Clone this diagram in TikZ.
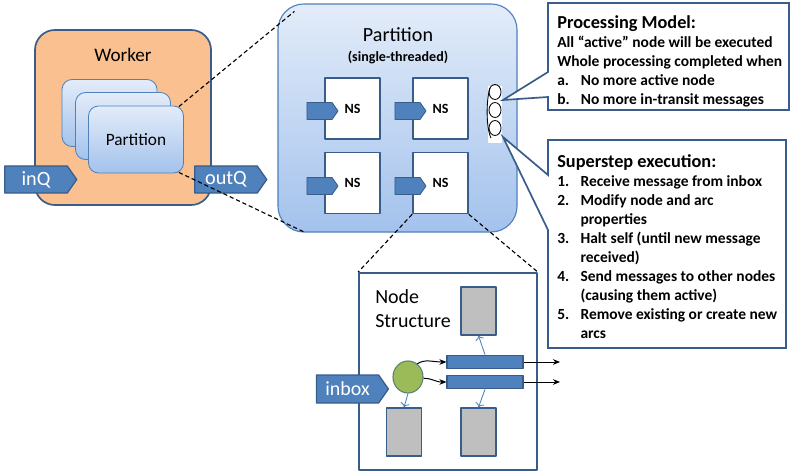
\documentclass[tikz,border=0pt]{standalone}
\usepackage{fontspec}
\setmainfont{Carlito}
\usetikzlibrary{shapes.symbols,shapes.geometric,calc,arrows.meta}
\definecolor{wkorange}{HTML}{FAC090}
\definecolor{dkblue}{HTML}{385D8A}
\definecolor{midblue}{HTML}{4F81BD}
\definecolor{ptop}{HTML}{E3ECF9}
\definecolor{pbot}{HTML}{A3C2EC}
\definecolor{nsgreen}{HTML}{9BBB59}
\definecolor{nsgray}{HTML}{BFBFBF}
\newcommand{\fsz}[2]{\fontsize{#1}{#2}\selectfont}
\tikzset{
	worker/.style={draw=dkblue, line width=1.2pt, fill=wkorange, rounded corners=0.5cm},
	ptcard/.style={draw=midblue, line width=0.6pt, rounded corners=0.25cm, top color=ptop, bottom color=pbot, minimum width=2.375cm, minimum height=1.675cm},
	qarrow/.style={signal, signal to=east, signal pointer angle=110, fill=midblue, draw=dkblue, line width=0.9pt, text=white, inner sep=0pt},
	nsbox/.style={draw=dkblue, line width=1.2pt, fill=white, minimum width=1.375cm, minimum height=1.525cm, font=\bfseries\fsz{10}{12}},
	nsin/.style={qarrow, minimum width=0.775cm, minimum height=0.425cm, line width=0.6pt},
	callout/.style={draw=dkblue, line width=1.2pt, fill=white, line join=miter},
	gbox/.style={draw=dkblue, line width=1pt, fill=nsgray, minimum width=0.875cm, minimum height=1.2cm},
	bar/.style={draw=dkblue, line width=0.8pt, fill=midblue, minimum width=1.9cm, minimum height=0.34cm},
	zoomline/.style={dashed, dash pattern=on 3pt off 2pt, line width=0.8pt},
	msg/.style={-{Stealth[length=5pt,width=4pt]}, line width=0.7pt},
	upd/.style={-{To[length=3pt]}, draw=midblue, line width=0.6pt}
}
\begin{document}
\begin{tikzpicture}[x=0.025cm, y=-0.025cm, line join=round, line cap=butt]
	\useasboundingbox (0,0) rectangle (800,472);
	\fill[white] (0,0) rectangle (800,472);
	% Worker
	\node[worker, minimum width=4.4cm, minimum height=4.375cm] (worker) at (123,117.5) {};
	\node[font=\fsz{13.6}{16}] (wtitle) at (123,55) {Worker};
	\node[ptcard] (back) at (109.5,113) {};
	\node[ptcard] (mid) at (123,126) {};
	\node[ptcard, font=\fsz{12.3}{14}] (front) at (136,139.5) {Partition};
	\node[qarrow, minimum width=1.8cm, minimum height=0.675cm, font=\fsz{14.4}{16}] (inq) at (36,179.5) {inQ};
	\node[qarrow, minimum width=1.8cm, minimum height=0.675cm, font=\fsz{14.4}{16}] (outq) at (226,179.5) {outQ};
	% Partition
	\node[draw=midblue, line width=0.8pt, rounded corners=0.65cm, top color=ptop, bottom color=pbot, minimum width=5.975cm, minimum height=5.7cm] (part) at (397.5,118) {};
	\node[font=\fsz{14.3}{16}] (ptitle) at (398,35) {Partition};
	\node[font=\bfseries\fsz{10}{12}] (psub) at (398,57) {(single-threaded)};
	\node[nsbox] (nsa) at (352.5,108.5) {NS};
	\node[nsbox] (nsb) at (440.5,108.5) {NS};
	\node[nsbox] (nsc) at (352.5,183) {NS};
	\node[nsbox] (nsd) at (440.5,183) {NS};
	\foreach \n/\x/\y in {a/319.5/111, b/407.5/111, c/319.5/186, d/407.5/186}
		\node[nsin] (in\n) at (\x,\y) {};
	% hang doi
	\node[fill=white, minimum width=0.35cm, minimum height=1.425cm, inner sep=0] (que) at (495,114.5) {};
	\foreach \y in {92,110,128}
		\draw[line width=0.6pt] (495,\y) circle[x radius=6, y radius=7.5];
	\draw[line width=0.6pt] (490,88) .. controls (486,100) and (486,128) .. (491,138);
	\coordinate (q1) at (503,100);
	\coordinate (q2) at (503,137);
	% zoom lines
	\draw[zoomline] ($(front.north east)+(-5,1)$) -- ($(part.north west)+(17,8)$);
	\draw[zoomline] ($(front.south east)+(-5,-1)$) -- ($(part.south west)+(28,0)$);
	% Processing Model
	\draw[callout] (548,3) -- (789,3) -- (789,110) -- (548,110) -- (548,97) -- (q1) -- (548,72) -- cycle;
	\node[anchor=north west, inner sep=0, align=left, font=\bfseries\fsz{11}{13.5}] (pmtext) at (557,15)
		{\begin{tabular}{@{}l@{\hspace{8pt}}l@{}}
			\multicolumn{2}{@{}l}{\fsz{13}{13.5}Processing Model:}\\
			\multicolumn{2}{@{}l}{All “active” node will be executed}\\
			\multicolumn{2}{@{}l}{Whole processing completed when}\\
			a. & No more active node\\
			b. & No more in-transit messages
		\end{tabular}};
	% Superstep
	\draw[callout] (548,140) -- (786,140) -- (786,348) -- (548,348) -- (548,230) -- (q2) -- (548,175) -- cycle;
	\node[anchor=north west, inner sep=0, align=left, font=\bfseries\fsz{11}{13.5}] (sstext) at (557,154)
		{\begin{tabular}{@{}l@{\hspace{8pt}}l@{}}
			\multicolumn{2}{@{}l}{\fsz{13}{13.5}Superstep execution:}\\
			1. & Receive message from inbox\\
			2. & Modify node and arc\\
			   & properties\\
			3. & Halt self (until new message\\
			   & received)\\
			4. & Send messages to other nodes\\
			   & (causing them active)\\
			5. & Remove existing or create new\\
			   & arcs
		\end{tabular}};
	% Node Structure
	\node[draw=dkblue, line width=1.2pt, fill=white, minimum width=4.45cm, minimum height=4.925cm] (nstr) at (448,371.5) {};
	\draw[zoomline] (nsd.south west) -- (nstr.north west);
	\draw[zoomline] (nsd.south east) -- (nstr.north east);
	\node[anchor=north west, align=left, inner sep=0, font=\fsz{14.2}{17}] (ntitle) at (375,289) {Node\\Structure};
	\node[gbox] (gtop) at (478.5,311) {};
	\node[gbox] (gbl) at (404,432) {};
	\node[gbox] (gbr) at (478.5,432) {};
	\node[bar] (bar1) at (485,362) {};
	\node[bar] (bar2) at (485,382) {};
	\node[draw=dkblue!60!nsgreen, line width=0.8pt, fill=nsgreen, ellipse, minimum width=0.75cm, minimum height=0.8cm, inner sep=0] (dot) at (408,377) {};
	\node[qarrow, minimum width=1.8cm, minimum height=0.7cm, font=\fsz{14.2}{16}] (inbox) at (347.5,389) {inbox};
	\coordinate (o1) at (560,362);
	\coordinate (o2) at (560,382);
	\draw[msg] (dot.55) .. controls +(8,-5) and +(-14,0) .. (bar1.west);
	\draw[msg] (dot.-5) .. controls +(10,0) and +(-12,0) .. (bar2.west);
	\draw[msg] (bar1.east) -- (o1);
	\draw[msg] (bar2.east) -- (o2);
	\draw[upd] (bar1.north) -- (gtop.south);
	\draw[upd] (dot.south) -- (gbl.north);
	\draw[upd] (bar2.south) -- (gbr.north);
\end{tikzpicture}
\end{document}
